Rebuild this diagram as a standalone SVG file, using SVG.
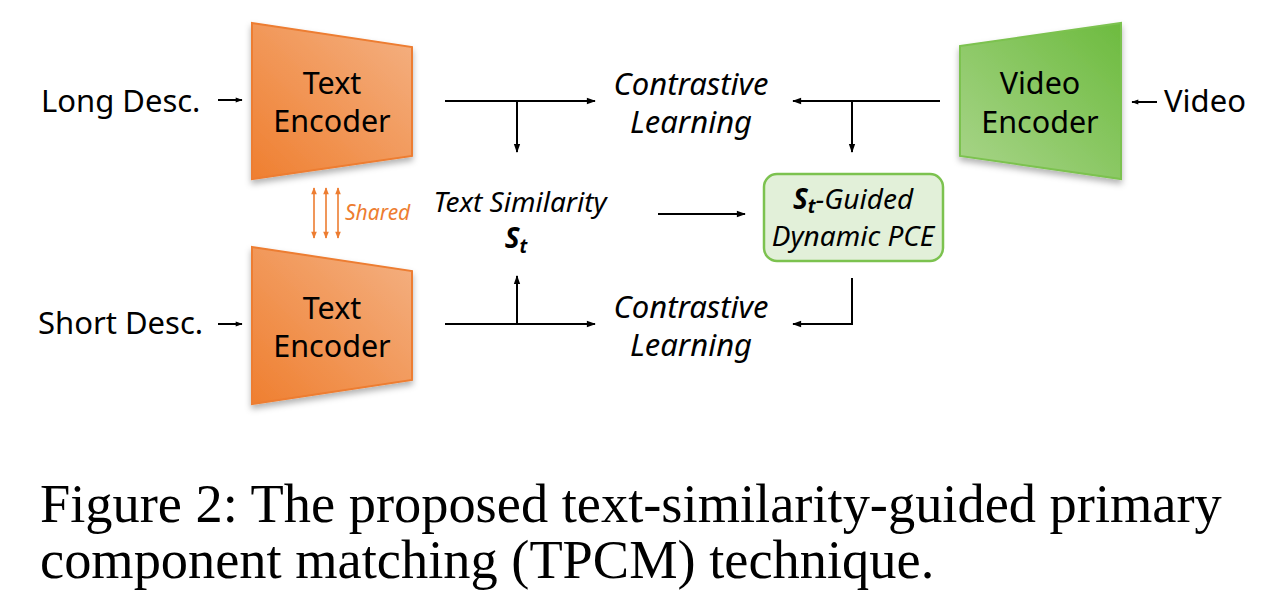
<svg xmlns="http://www.w3.org/2000/svg" width="1283" height="600" viewBox="0 0 1283 600">
<style>
.lbl{font-family:"Noto Sans","Open Sans",sans-serif;font-size:31px;fill:#000}
.enc{font-family:"Noto Sans","Open Sans",sans-serif;font-size:30.5px;fill:#000;text-anchor:middle}
.it{font-family:"Noto Sans","Open Sans",sans-serif;font-style:italic;font-size:31px;fill:#000;text-anchor:middle}
.it2{font-family:"Noto Sans","Open Sans",sans-serif;font-style:italic;font-size:28px;fill:#000;text-anchor:middle}
.cap{font-family:"Liberation Serif","Times New Roman",serif;font-size:54.4px;fill:#000}
.ln{stroke:#000;stroke-width:2;fill:none}
.lna{stroke:#000;stroke-width:2;fill:none;marker-end:url(#ah)}
.sh{stroke:#ED7D31;stroke-width:1.6;fill:none;marker-start:url(#oh);marker-end:url(#oh)}
</style>
<defs>
<marker id="ah" viewBox="0 0 10 10" refX="9" refY="5" markerWidth="12" markerHeight="9" orient="auto" markerUnits="userSpaceOnUse" overflow="visible">
<path d="M0,1.5 L10,5 L0,8.5 Z" fill="#000"/>
</marker>
<marker id="sa" viewBox="0 0 10 10" refX="9" refY="5" markerWidth="9" markerHeight="7" orient="auto" markerUnits="userSpaceOnUse">
<path d="M0,1.5 L10,5 L0,8.5 Z" fill="#000"/>
</marker>
<marker id="oh" viewBox="0 0 10 10" refX="9" refY="5" markerWidth="8" markerHeight="7" orient="auto-start-reverse" markerUnits="userSpaceOnUse">
<path d="M0,1 L10,5 L0,9 Z" fill="#ED7D31"/>
</marker>
<linearGradient id="og" x1="0" y1="1" x2="1" y2="0">
<stop offset="0" stop-color="#EF7F30"/>
<stop offset="1" stop-color="#F4B183"/>
</linearGradient>
<linearGradient id="gg" x1="0" y1="1" x2="1" y2="0">
<stop offset="0" stop-color="#A9D58A"/>
<stop offset="1" stop-color="#6DBB3F"/>
</linearGradient>
<filter id="shd" x="-20%" y="-20%" width="140%" height="150%">
<feGaussianBlur in="SourceAlpha" stdDeviation="3"/>
<feOffset dx="0" dy="4" result="b"/>
<feFlood flood-color="#000" flood-opacity="0.3"/>
<feComposite in2="b" operator="in"/>
<feMerge><feMergeNode/><feMergeNode in="SourceGraphic"/></feMerge>
</filter>
</defs>
<rect width="1283" height="600" fill="#fff"/>

<g id="long-desc">
<text class="lbl" x="41" y="112">Long Desc.</text>
</g>
<g id="short-desc">
<text class="lbl" x="38" y="334">Short Desc.</text>
</g>
<g id="video">
<text class="lbl" x="1164" y="112">Video</text>
</g>

<g id="text-encoder-top">
<polygon points="252,23 412,47 412,156 252,179" fill="url(#og)" stroke="#ED7D31" stroke-width="2" filter="url(#shd)"/>
<text class="enc" x="332" y="94">Text</text>
<text class="enc" x="332" y="132">Encoder</text>
</g>
<g id="text-encoder-bottom">
<polygon points="252,247 412,271 412,380 252,404" fill="url(#og)" stroke="#ED7D31" stroke-width="2" filter="url(#shd)"/>
<text class="enc" x="332" y="319">Text</text>
<text class="enc" x="332" y="357">Encoder</text>
</g>
<g id="video-encoder">
<polygon points="960,46 1121,23 1121,179 960,156" fill="url(#gg)" stroke="#7CC24F" stroke-width="2" filter="url(#shd)"/>
<text class="enc" x="1040" y="94">Video</text>
<text class="enc" x="1040" y="133">Encoder</text>
</g>

<g id="contrastive-top">
<text class="it" x="691" y="95">Contrastive</text>
<text class="it" x="691" y="133">Learning</text>
</g>
<g id="contrastive-bottom">
<text class="it" x="691" y="318">Contrastive</text>
<text class="it" x="691" y="356">Learning</text>
</g>
<g id="text-similarity">
<text class="it2" x="520" y="212">Text Similarity</text>
<text class="it2" x="516" y="248" font-weight="bold">S<tspan font-size="19" dy="5">t</tspan></text>
</g>
<g id="guided-pce">
<rect x="764" y="174" width="179" height="87" rx="13" fill="#E2F0D9" stroke="#7CC24F" stroke-width="2.5"/>
<text class="it2" x="853" y="209"><tspan font-weight="bold">S</tspan><tspan font-weight="bold" font-size="19" dy="4">t</tspan><tspan dy="-4">-Guided</tspan></text>
<text class="it2" x="853" y="246">Dynamic PCE</text>
</g>
<g id="shared">
<line class="sh" x1="314" y1="188" x2="314" y2="238"/>
<line class="sh" x1="326" y1="188" x2="326" y2="238"/>
<line class="sh" x1="338" y1="188" x2="338" y2="238"/>
<text x="345" y="220" font-family="Noto Sans, sans-serif" font-style="italic" font-size="21" fill="#ED7D31">Shared</text>
</g>

<g id="connectors">
<line class="ln" x1="218" y1="100" x2="242" y2="100" marker-end="url(#sa)"/>
<line class="ln" x1="218" y1="324" x2="242" y2="324" marker-end="url(#sa)"/>
<line class="ln" x1="1157" y1="102" x2="1132" y2="102" marker-end="url(#sa)"/>
<line class="lna" x1="445" y1="101" x2="595" y2="101"/>
<line class="lna" x1="517" y1="101" x2="517" y2="152"/>
<line class="lna" x1="940" y1="101" x2="793" y2="101"/>
<line class="lna" x1="852" y1="101" x2="852" y2="152"/>
<line class="lna" x1="658" y1="214" x2="745" y2="214"/>
<line class="lna" x1="445" y1="324" x2="595" y2="324"/>
<line class="lna" x1="517" y1="324" x2="517" y2="276"/>
<polyline class="lna" points="852,278 852,324 793,324"/>
</g>

<g id="caption">
<text class="cap" x="40" y="522">Figure 2: The proposed text-similarity-guided primary</text>
<text class="cap" x="40" y="578">component matching (TPCM) technique.</text>
</g>
</svg>
